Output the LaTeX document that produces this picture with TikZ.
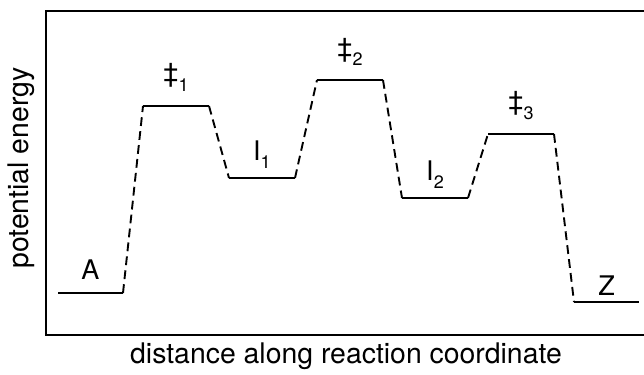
\documentclass[tikz,border=0pt]{standalone}
\usepackage{fontspec}
\setmainfont{TeX Gyre Heros}
\usetikzlibrary{positioning,calc}
\newcommand{\lvlsub}[1]{\raisebox{-0.32em}{\fontsize{9}{10}\selectfont #1}}

\begin{document}
\begin{tikzpicture}[
  x=0.5pt, y=-0.5pt,
  level/.style={line width=1pt, line cap=butt},
  trans/.style={line width=0.95pt, dash pattern=on 4.4pt off 2.6pt, line join=round},
  frame/.style={line width=1.1pt},
  lbl/.style={font=\fontsize{13.5}{15}\selectfont, inner sep=0pt, anchor=base},
  axis/.style={font=\fontsize{14.2}{16}\selectfont, inner sep=0pt},
]
\useasboundingbox (0,0) rectangle (644,375);

% ---------- frame ----------
\draw[frame] (644,11) -- (46,11) -- (46,335) -- (644,335);

% ---------- energy levels ----------
\coordinate (A1) at (58,293);  \coordinate (A2) at (123,293);
\coordinate (T1a) at (143,106); \coordinate (T1b) at (209,106);
\coordinate (I1a) at (229,178); \coordinate (I1b) at (295,178);
\coordinate (T2a) at (317,80);  \coordinate (T2b) at (383,80);
\coordinate (I2a) at (402,198); \coordinate (I2b) at (468,198);
\coordinate (T3a) at (488,134); \coordinate (T3b) at (554,134);
\coordinate (Za) at (574,302);  \coordinate (Zb) at (639,302);

\foreach \a/\b in {A1/A2, T1a/T1b, I1a/I1b, T2a/T2b, I2a/I2b, T3a/T3b, Za/Zb}
  \draw[level] (\a) -- (\b);

% ---------- dashed transitions ----------
\foreach \a/\b in {A2/T1a, T1b/I1a, I1b/T2a, T2b/I2a, I2b/T3a, T3b/Za}
  \draw[trans] (\a) -- (\b);

% ---------- labels ----------
\node[lbl] (lA) at ($(A1)!0.5!(A2)+(0,-14)$) {A};
\node[lbl] (lT1) at ($(T1a)!0.5!(T1b)+(0,-23)$) {‡\lvlsub{1}};
\node[lbl] (lI1) at ($(I1a)!0.5!(I1b)+(0,-18)$) {I\lvlsub{1}};
\node[lbl] (lT2) at ($(T2a)!0.5!(T2b)+(0,-23)$) {‡\lvlsub{2}};
\node[lbl] (lI2) at ($(I2a)!0.5!(I2b)+(0,-18)$) {I\lvlsub{2}};
\node[lbl] (lT3) at ($(T3a)!0.5!(T3b)+(0,-23)$) {‡\lvlsub{3}};
\node[lbl] (lZ) at ($(Za)!0.5!(Zb)+(0,-7)$) {Z};

% ---------- axis titles ----------
\node[axis, rotate=90] (yl) at (21,168) {potential energy};
\node[axis] (xl) at (346,356) {distance along reaction coordinate};

\end{tikzpicture}
\end{document}
